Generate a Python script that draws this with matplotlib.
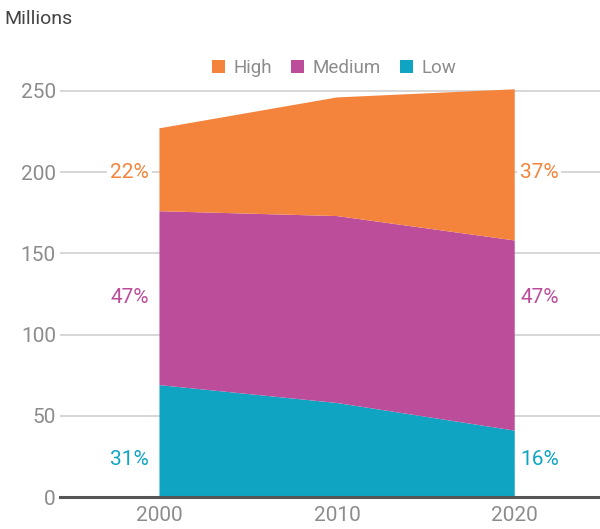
import matplotlib
matplotlib.use("Agg")
import matplotlib.pyplot as plt
from matplotlib.patches import Patch

years = [2000, 2010, 2020]
low = [69, 58, 41]
medium = [107, 115, 117]
high = [51, 73, 93]
series_names = ["High", "Medium", "Low"]
left_pct = ["31%", "47%", "22%"]
right_pct = ["16%", "47%", "37%"]
pct_y = [23, 123, 200]
yticks = [0, 50, 100, 150, 200, 250]
xticks = [2000, 2010, 2020]

c_low = "#0EA4C2"
c_med = "#BC4D9A"
c_high = "#F4843B"
gray = "#8C8C8C"

plt.rcParams['font.family'] = ['Roboto', 'DejaVu Sans']

fig = plt.figure(figsize=(6.0, 5.29), dpi=100)
ax = fig.add_axes([0.10, 0.06, 0.90, 0.805])

ax.stackplot(years, low, medium, high, colors=[c_low, c_med, c_high], zorder=3)

ax.set_xlim(1994.4, 2024.8)
ax.set_ylim(0, 262)
ax.set_yticks(yticks)
ax.set_xticks(xticks)
ax.yaxis.grid(True, color="#CCCCCC", linewidth=1.1, zorder=0)
ax.set_axisbelow(True)
for s in ["top", "right", "left"]:
    ax.spines[s].set_visible(False)
ax.spines["bottom"].set_color("#555555")
ax.spines["bottom"].set_linewidth(2.2)
ax.spines["bottom"].set_zorder(4)
ax.tick_params(axis="both", length=0, labelsize=15, labelcolor=gray)
ax.tick_params(axis="x", pad=6)
ax.tick_params(axis="y", pad=3)

cols = [c_low, c_med, c_high]
for lab, y, c in zip(left_pct, pct_y, cols):
    ax.text(1999.4, y, lab, color=c, fontsize=15, ha="right", va="center",
            zorder=5, bbox=dict(facecolor="white", edgecolor="none", pad=2))
for lab, y, c in zip(right_pct, pct_y, cols):
    ax.text(2020.3, y, lab, color=c, fontsize=15, ha="left", va="center",
            zorder=5, bbox=dict(facecolor="white", edgecolor="none", pad=2))

handles = [Patch(facecolor=c_high), Patch(facecolor=c_med), Patch(facecolor=c_low)]
leg = fig.legend(handles, series_names, loc="center", bbox_to_anchor=(0.557, 0.871),
                 ncol=3, frameon=False, fontsize=13.5, handlelength=0.7, handleheight=0.7,
                 handletextpad=0.45, columnspacing=1.0)
for t in leg.get_texts():
    t.set_color(gray)

fig.text(0.008, 0.965, "Millions", fontsize=14, color="#444444", ha="left", va="center")

fig.savefig("out.png", dpi=100)
